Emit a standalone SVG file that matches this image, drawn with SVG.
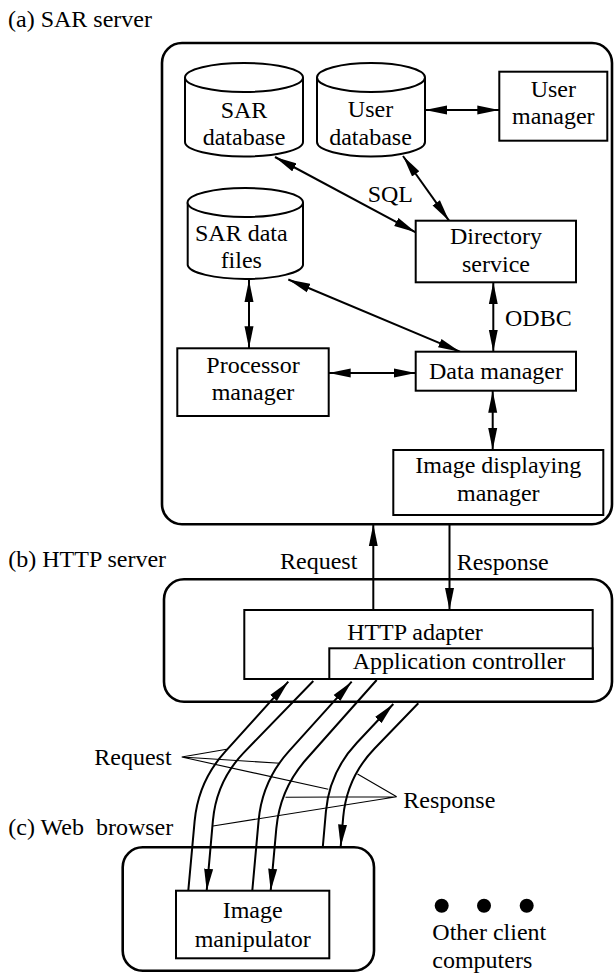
<svg xmlns="http://www.w3.org/2000/svg" width="614" height="973" viewBox="0 0 614 973">
<style>
.t{font-family:"Liberation Serif","Times New Roman",serif;font-size:24px;fill:#000}
.c{text-anchor:middle}
.box{fill:#fff;stroke:#000;stroke-width:2}
.frame{fill:none;stroke:#000;stroke-width:2.6}
.ln{fill:none;stroke:#000;stroke-width:2}
.thin{fill:none;stroke:#000;stroke-width:1.1}
</style>
<defs>
<marker id="ah" viewBox="0 0 22 10" refX="22" refY="5" markerWidth="22" markerHeight="10" markerUnits="userSpaceOnUse" orient="auto-start-reverse">
<path d="M0,0.5 L22,5 L0,9.5 Z" fill="#000"/>
</marker>
</defs>
<rect width="614" height="973" fill="#fff"/>

<g id="sar-server">
<rect class="frame" x="162" y="43" width="450" height="481.3" rx="20"/>
<text class="t" x="8" y="26.5">(a) SAR server</text>
</g>
<g id="http-server">
<rect class="frame" x="164" y="579.3" width="448" height="122.4" rx="20"/>
<text class="t" x="8.3" y="567.3">(b) HTTP server</text>
</g>
<g id="web-browser">
<rect class="frame" x="122.7" y="847.3" width="251.3" height="123.5" rx="20"/>
<text class="t" x="8.3" y="835" xml:space="preserve">(c) Web  browser</text>
</g>

<g id="connectors">
<line class="ln" x1="425" y1="110" x2="499.3" y2="110" marker-start="url(#ah)" marker-end="url(#ah)"/>
<line class="ln" x1="275" y1="157" x2="415.7" y2="232.3" marker-start="url(#ah)" marker-end="url(#ah)"/>
<line class="ln" x1="403" y1="156" x2="449" y2="220.7" marker-start="url(#ah)" marker-end="url(#ah)"/>
<line class="ln" x1="249" y1="280" x2="249" y2="348.3" marker-start="url(#ah)" marker-end="url(#ah)"/>
<line class="ln" x1="288.3" y1="279.5" x2="460" y2="351.7" marker-start="url(#ah)" marker-end="url(#ah)"/>
<line class="ln" x1="493.3" y1="282.3" x2="493.3" y2="351.7" marker-start="url(#ah)" marker-end="url(#ah)"/>
<line class="ln" x1="328.7" y1="373" x2="415.7" y2="373" marker-start="url(#ah)" marker-end="url(#ah)"/>
<line class="ln" x1="492.7" y1="390.7" x2="492.7" y2="450" marker-start="url(#ah)" marker-end="url(#ah)"/>
<line class="ln" x1="373.3" y1="610" x2="373.3" y2="524.3" marker-end="url(#ah)"/>
<line class="ln" x1="449.5" y1="524.3" x2="449.5" y2="610" marker-end="url(#ah)"/>
<path class="ln" d="M188.3,890.7 L194.6,821.4 Q198.2,781.6 225,751.9 L288.3,681.7" marker-end="url(#ah)"/>
<path class="ln" d="M313.3,681 L244.3,752.1 Q216.5,780.8 212.9,820.6 L206.7,890.7" marker-end="url(#ah)"/>
<path class="ln" d="M252.3,890.7 L258.6,820.6 Q262.2,780.8 289,751.1 L351.7,681.7" marker-end="url(#ah)"/>
<path class="ln" d="M376.7,680 L306.5,759 Q279.9,788.9 276.3,828.7 L270.7,890.7" marker-end="url(#ah)"/>
<path class="ln" d="M322.7,848 L325.9,811.6 Q329.5,771.8 356.9,742.7 L393.3,704" marker-end="url(#ah)"/>
<path class="ln" d="M418.3,703.3 L374.6,748.5 Q346.8,777.3 343.2,817.1 L340.7,846.5" marker-end="url(#ah)"/>
<path class="thin" d="M181.7,757 L226.7,749.3 M181.7,757 L280,763.3 M181.7,757 L328.3,789.3"/>
<path class="thin" d="M396.7,796.7 L357.5,774 M396.7,796.7 L285.5,797.3 M396.7,796.7 L213,826"/>
<text class="t" x="280" y="568.5">Request</text>
<text class="t" x="456.7" y="569.5">Response</text>
<text class="t" x="94.3" y="765">Request</text>
<text class="t" x="403.3" y="808.3">Response</text>
<text class="t" x="367.7" y="201.7">SQL</text>
<text class="t" x="505" y="325.7">ODBC</text>
</g>

<g id="sar-database">
<path class="box" d="M185,77.5 L185,142 A59,14.5 0 0 0 303,142 L303,77.5"/>
<ellipse class="box" cx="244" cy="77.5" rx="59" ry="14.5"/>
<text class="t c" x="244" y="118.3">SAR</text>
<text class="t c" x="244" y="145">database</text>
</g>
<g id="user-database">
<path class="box" d="M317,77.5 L317,142 A54,14.5 0 0 0 425,142 L425,77.5"/>
<ellipse class="box" cx="371" cy="77.5" rx="54" ry="14.5"/>
<text class="t c" x="370.5" y="117.3">User</text>
<text class="t c" x="370.5" y="145">database</text>
</g>
<g id="user-manager">
<rect class="box" x="499.3" y="71.7" width="108" height="69"/>
<text class="t c" x="553.3" y="96.7">User</text>
<text class="t c" x="553.3" y="124">manager</text>
</g>
<g id="sar-data-files">
<path class="box" d="M187.7,202.5 L187.7,265 A57.7,14.5 0 0 0 303,265 L303,202.5"/>
<ellipse class="box" cx="245.3" cy="202.5" rx="57.7" ry="14.5"/>
<text class="t c" x="241.3" y="240.7">SAR data</text>
<text class="t c" x="241.3" y="267.7">files</text>
</g>
<g id="directory-service">
<rect class="box" x="415.7" y="220.7" width="160.3" height="61.6"/>
<text class="t c" x="496" y="244.3">Directory</text>
<text class="t c" x="496" y="271.7">service</text>
</g>
<g id="processor-manager">
<rect class="box" x="177.3" y="348.3" width="151.4" height="67.7"/>
<text class="t c" x="253" y="372.5">Processor</text>
<text class="t c" x="253" y="400">manager</text>
</g>
<g id="data-manager">
<rect class="box" x="415.7" y="351.7" width="160.3" height="39"/>
<text class="t c" x="496" y="378.5">Data manager</text>
</g>
<g id="image-displaying-manager">
<rect class="box" x="393.3" y="450" width="210" height="65"/>
<text class="t c" x="498.3" y="473.3">Image displaying</text>
<text class="t c" x="498.3" y="501">manager</text>
</g>
<g id="http-adapter">
<rect class="box" x="244.3" y="610" width="348.4" height="69"/>
<text class="t c" x="415" y="640">HTTP adapter</text>
</g>
<g id="application-controller">
<rect class="box" x="329.3" y="648.3" width="263.4" height="30.7"/>
<text class="t c" x="459" y="669.3">Application controller</text>
</g>
<g id="image-manipulator">
<rect class="box" x="176" y="890.7" width="153.3" height="67.6"/>
<text class="t c" x="252.7" y="918.3">Image</text>
<text class="t c" x="252.7" y="946.7">manipulator</text>
</g>
<g id="other-clients">
<circle cx="441.7" cy="905.7" r="7" fill="#000"/>
<circle cx="484" cy="905.7" r="7" fill="#000"/>
<circle cx="526.7" cy="905.7" r="7" fill="#000"/>
<text class="t" x="432.3" y="940">Other client</text>
<text class="t" x="432.3" y="967.7">computers</text>
</g>
</svg>
